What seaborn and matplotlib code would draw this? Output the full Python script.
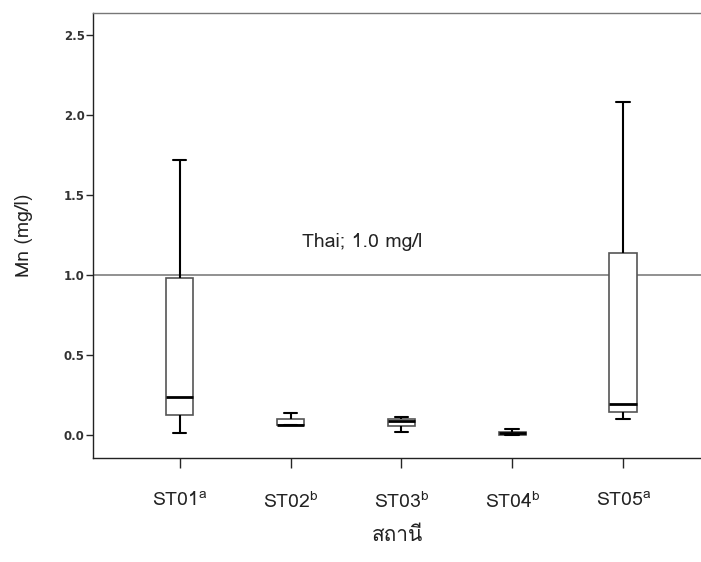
import pandas as pd
import matplotlib.pyplot as plt
import seaborn as sns
from matplotlib import font_manager
from matplotlib.ft2font import FT2Font


# station names and significance letters
stations = ['ST01', 'ST02', 'ST03', 'ST04', 'ST05']
letters = ['a', 'b', 'b', 'b', 'a']

# five-number summary (min, Q1, median, Q3, max), mg/l
st01 = [0.01, 0.125, 0.24, 0.983, 1.717]
st02 = [0.06, 0.06, 0.065, 0.098, 0.137]
st03 = [0.02, 0.058, 0.085, 0.098, 0.115]
st04 = [0.0, 0.0, 0.012, 0.02, 0.035]
st05 = [0.10, 0.146, 0.194, 1.136, 2.08]

standard = 1.0  # Thai standard

df = pd.DataFrame({
    'station': [s for s, v in zip(stations, [st01, st02, st03, st04, st05]) for _ in v],
    'mn': st01 + st02 + st03 + st04 + st05,
})


# find an installed font that can draw Thai
thai_font = None
for f in font_manager.fontManager.ttflist:
    try:
        if FT2Font(f.fname).get_char_index(ord('ส')):
            thai_font = f.name
            break
    except Exception:
        pass
fam = [thai_font, 'DejaVu Sans'] if thai_font else ['DejaVu Sans']

sns.set_style('white')
plt.rcParams['font.family'] = fam
plt.rcParams['mathtext.default'] = 'regular'

fig = plt.figure(figsize=(7.01, 5.62), dpi=100)
ax = fig.add_axes([0.1327, 0.185, 0.8673, 0.792])

sns.boxplot(data=df, x='station', y='mn', order=stations, width=0.25,
            whis=1.5, ax=ax, showfliers=False,
            boxprops=dict(facecolor='white', edgecolor='#555555', linewidth=1.2),
            medianprops=dict(color='black', linewidth=2),
            whiskerprops=dict(color='black', linewidth=1.5),
            capprops=dict(color='black', linewidth=1.5))

ax.axhline(standard, color='#888888', linewidth=1.3, zorder=1)
ax.text(1.1, 1.21, 'Thai; 1.0 mg/l', fontsize=14, color='#222222', va='center')

ax.set_ylim(-0.144, 2.64)
ax.set_xlim(-0.78, 4.70)
ax.set_yticks([0.0, 0.5, 1.0, 1.5, 2.0, 2.5])
ax.set_yticklabels(['0.0', '0.5', '1.0', '1.5', '2.0', '2.5'], fontsize=8.5,
                   color='#333333', fontweight='bold', family='DejaVu Sans')
ax.set_xticks(range(len(stations)))
ax.set_xticklabels([s + '$^{' + l + '}$' for s, l in zip(stations, letters)],
                   fontsize=14, color='#222222')
ax.tick_params(axis='y', direction='out', length=5, width=1, left=True, pad=1)
ax.tick_params(axis='x', direction='out', length=7, width=1, bottom=True, pad=17)

ax.set_ylabel('Mn (mg/l)', fontsize=14, color='#222222', labelpad=22)
ax.set_xlabel('สถานี', fontsize=15, color='#222222', labelpad=10)

for side in ['left', 'bottom', 'top']:
    ax.spines[side].set_color('#222222')
    ax.spines[side].set_linewidth(1)
ax.spines['top'].set_color('#777777')
ax.spines['right'].set_visible(False)

plt.savefig('out.png', dpi=100)
